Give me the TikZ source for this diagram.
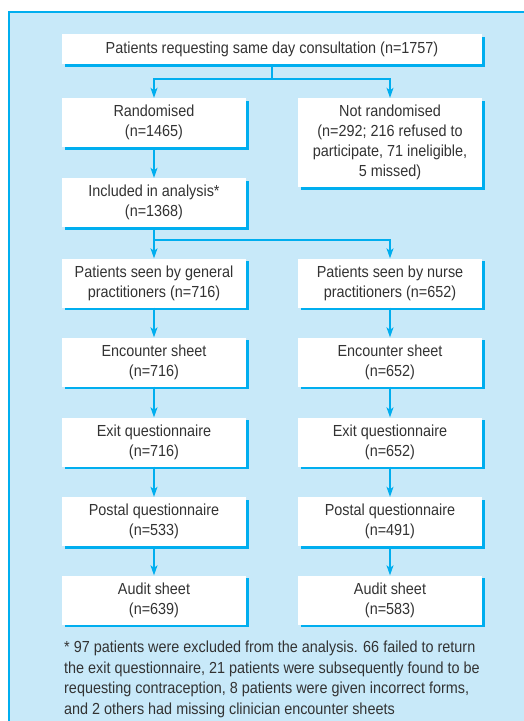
\documentclass[tikz,border=0pt]{standalone}
\usepackage{fontspec}
\setmainfont{Liberation Sans}[FakeStretch=0.9]
\usetikzlibrary{arrows.meta,shadows}
\definecolor{bgblue}{HTML}{C8E9F9}
\definecolor{linecol}{HTML}{00AEEF}
\definecolor{txt}{HTML}{333333}
\begin{document}
\begin{tikzpicture}[x=1pt,y=-1pt,
  box/.style={rectangle, fill=white, inner sep=0pt, align=center,
    minimum width=184pt, minimum height=49pt, text=txt,
    font=\fontsize{16}{20}\selectfont,
    general shadow={fill=linecol, shadow xshift=2.5pt, shadow yshift=-2.5pt}},
  conn/.style={draw=linecol, line width=1.2pt},
  arr/.style={conn, -{Stealth[length=10pt,width=7pt,inset=2.5pt]}},
  note/.style={text=txt, align=left, inner sep=0pt, anchor=north west,
    font=\fontsize{16}{20.5}\selectfont}]
\useasboundingbox (0,0) rectangle (524,721);
\fill[bgblue] (9,12) rectangle (540,740);
\draw[linecol, line width=1.2pt] (9,740) -- (9,12) -- (540,12);

\node[box, minimum width=420pt, minimum height=30pt] (top) at (272,49) {Patients requesting same day consultation (n=1757)};
\node[box] (rand) at (154,122.5) {Randomised\\(n=1465)};
\node[box, minimum height=89pt] (notr) at (390,142.5) {Not randomised\\(n=292; 216 refused to\\participate, 71 ineligible,\\5 missed)};
\node[box] (incl) at (154,202.5) {Included in analysis*\\(n=1368)};

\node[box] (gp) at (154,283) {Patients seen by general\\practitioners (n=716)};
\node[box] (np) at (390,283) {Patients seen by nurse\\practitioners (n=652)};
\node[box] (enc1) at (154,362) {Encounter sheet\\(n=716)};
\node[box] (enc2) at (390,362) {Encounter sheet\\(n=652)};
\node[box] (exit1) at (154,442) {Exit questionnaire\\(n=716)};
\node[box] (exit2) at (390,442) {Exit questionnaire\\(n=652)};
\node[box] (post1) at (154,521.5) {Postal questionnaire\\(n=533)};
\node[box] (post2) at (390,521.5) {Postal questionnaire\\(n=491)};
\node[box] (aud1) at (154,600) {Audit sheet\\(n=639)};
\node[box] (aud2) at (390,600) {Audit sheet\\(n=583)};

\coordinate (b1) at (272,79);
\coordinate (b2) at (154,240);
\draw[conn] (top.south) -- (b1);
\draw[arr] (b1) -| (rand.north);
\draw[arr] (b1) -| (notr.north);
\draw[arr] (rand) -- (incl);
\draw[conn] (incl.south) -- (b2);
\draw[arr] (b2) -- (gp.north);
\draw[arr] (b2) -| (np.north);
\draw[arr] (gp) -- (enc1);
\draw[arr] (np) -- (enc2);
\draw[arr] (enc1) -- (exit1);
\draw[arr] (enc2) -- (exit2);
\draw[arr] (exit1) -- (post1);
\draw[arr] (exit2) -- (post2);
\draw[arr] (post1) -- (aud1);
\draw[arr] (post2) -- (aud2);

\node[note] (fn) at (64,641) {* 97 patients were excluded from the analysis. 66 failed to return\\the exit questionnaire, 21 patients were subsequently found to be\\requesting contraception, 8 patients were given incorrect forms,\\and 2 others had missing clinician encounter sheets};
\end{tikzpicture}
\end{document}
